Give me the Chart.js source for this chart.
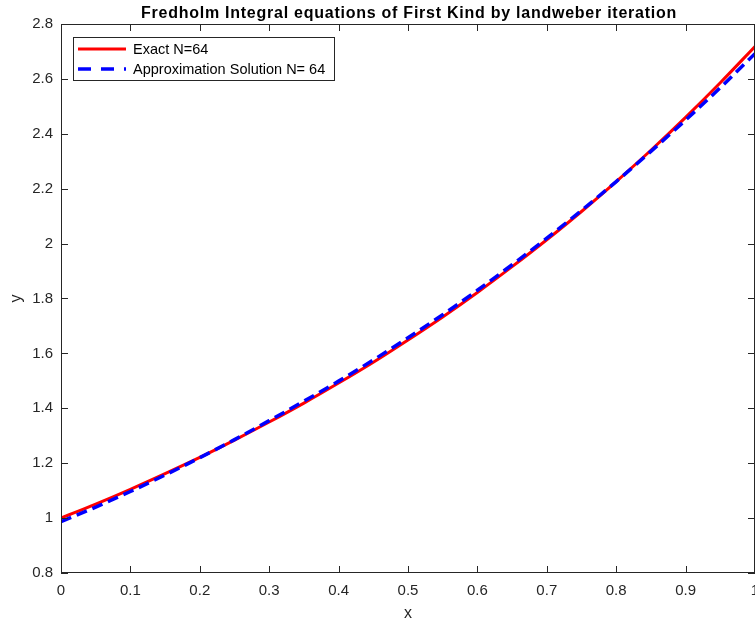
<!DOCTYPE html>
<html>
<head>
<meta charset="utf-8">
<script src="https://cdn.jsdelivr.net/npm/chart.js@4"></script>
<style>
  html, body { margin: 0; padding: 0; background: #fff; }
  #wrap { width: 755px; height: 625px; }
</style>
</head>
<body>
<div id="wrap"><canvas id="chart" width="755" height="625"></canvas></div>
<script>
// Data
const xValues = [0, 0.05, 0.1, 0.15, 0.2, 0.25, 0.3, 0.35, 0.4, 0.45, 0.5,
                 0.55, 0.6, 0.65, 0.7, 0.75, 0.8, 0.85, 0.9, 0.95, 1];
const exactValues = [1.000, 1.051, 1.105, 1.162, 1.221, 1.284, 1.350, 1.419, 1.492, 1.568, 1.649,
                     1.733, 1.822, 1.916, 2.014, 2.117, 2.226, 2.340, 2.460, 2.586, 2.718];
const approxValues = [0.987, 1.040, 1.097, 1.157, 1.220, 1.286, 1.355, 1.426, 1.499, 1.576, 1.657,
                      1.741, 1.830, 1.923, 2.020, 2.121, 2.226, 2.336, 2.450, 2.568, 2.692];
const xTicks = [0, 0.1, 0.2, 0.3, 0.4, 0.5, 0.6, 0.7, 0.8, 0.9, 1];
const yTicks = [0.8, 1, 1.2, 1.4, 1.6, 1.8, 2, 2.2, 2.4, 2.6, 2.8];
const seriesNames = ['Exact N=64', 'Approximation Solution N= 64'];
const chartTitle = 'Fredholm Integral equations of First Kind by landweber iteration';

const axisColor = '#262626';
const FONT = '"Liberation Sans", Arial, Helvetica, sans-serif';

function toPoints(ys) {
    return xValues.map((x, i) => ({ x: x, y: ys[i] }));
}

// Box, inward ticks, title and legend, MATLAB style
const matlabFrame = {
    id: 'matlabFrame',
    afterDraw(chart) {
        const ctx = chart.ctx;
        const area = chart.chartArea;
        const xs = chart.scales.x;
        const ys = chart.scales.y;
        const tickLen = 7;

        ctx.save();
        ctx.strokeStyle = axisColor;
        ctx.lineWidth = 1;
        ctx.strokeRect(area.left + 0.5, area.top + 0.5, area.right - area.left - 1, area.bottom - area.top - 1);

        ctx.beginPath();
        xTicks.forEach(v => {
            const px = Math.round(xs.getPixelForValue(v)) + 0.5;
            ctx.moveTo(px, area.bottom);
            ctx.lineTo(px, area.bottom - tickLen);
            ctx.moveTo(px, area.top);
            ctx.lineTo(px, area.top + tickLen);
        });
        yTicks.forEach(v => {
            const py = Math.round(ys.getPixelForValue(v)) + 0.5;
            ctx.moveTo(area.left, py);
            ctx.lineTo(area.left + tickLen, py);
            ctx.moveTo(area.right, py);
            ctx.lineTo(area.right - tickLen, py);
        });
        ctx.stroke();

        // title
        ctx.fillStyle = '#000';
        ctx.font = 'bold 16px ' + FONT;
        ctx.letterSpacing = '0.75px';
        ctx.textAlign = 'center';
        ctx.textBaseline = 'alphabetic';
        ctx.fillText(chartTitle, (area.left + area.right) / 2 + 1, 18);
        ctx.letterSpacing = '0px';

        // legend
        const lx = 73, ly = 37, lw = 261, lh = 43;
        ctx.fillStyle = '#fff';
        ctx.fillRect(lx, ly, lw, lh);
        ctx.strokeStyle = axisColor;
        ctx.lineWidth = 1;
        ctx.strokeRect(lx + 0.5, ly + 0.5, lw, lh);

        ctx.font = '14.5px ' + FONT;
        ctx.textAlign = 'left';
        ctx.textBaseline = 'middle';
        chart.data.datasets.forEach((ds, i) => {
            const yy = ly + 12 + i * 20;
            ctx.strokeStyle = ds.borderColor;
            ctx.lineWidth = ds.borderWidth;
            ctx.setLineDash(i === 1 ? [13, 10] : []);
            ctx.beginPath();
            ctx.moveTo(lx + 5, yy);
            ctx.lineTo(lx + 53, yy);
            ctx.stroke();
            ctx.setLineDash([]);
            ctx.fillStyle = '#000';
            ctx.fillText(ds.label, lx + 60, yy + 1);
        });
        ctx.restore();
    }
};

const chart = new Chart(document.getElementById('chart'), {
    type: 'line',
    data: {
        datasets: [
            {
                label: seriesNames[0],
                data: toPoints(exactValues),
                borderColor: '#ff0000',
                borderWidth: 3,
                pointRadius: 0,
                cubicInterpolationMode: 'monotone',
                fill: false,
                order: 2
            },
            {
                label: seriesNames[1],
                data: toPoints(approxValues),
                borderColor: '#0000ff',
                borderWidth: 3.5,
                borderDash: [11, 6],
                pointRadius: 0,
                cubicInterpolationMode: 'monotone',
                fill: false,
                order: 1
            }
        ]
    },
    options: {
        responsive: false,
        animation: false,
        layout: { padding: { top: 24, right: 0, left: 0, bottom: 0 } },
        plugins: {
            legend: { display: false },
            title: { display: false },
            tooltip: { enabled: false }
        },
        scales: {
            x: {
                type: 'linear',
                min: 0,
                max: 1,
                afterBuildTicks: (scale) => { scale.ticks = xTicks.map(v => ({ value: v })); },
                afterFit: (scale) => {
                    scale.height = 52;
                    scale.paddingLeft = 0;
                    scale.paddingRight = 0;
                },
                grid: { display: false, drawTicks: false },
                border: { display: false },
                ticks: {
                    color: axisColor,
                    font: { family: FONT, size: 15 },
                    padding: 9,
                    maxRotation: 0,
                    autoSkip: false,
                    callback: (v) => String(v)
                },
                title: {
                    display: true,
                    text: 'x',
                    color: axisColor,
                    font: { family: FONT, size: 16 },
                    padding: { top: 0, bottom: 2 }
                }
            },
            y: {
                type: 'linear',
                min: 0.8,
                max: 2.8,
                afterBuildTicks: (scale) => { scale.ticks = yTicks.map(v => ({ value: v })); },
                afterFit: (scale) => {
                    scale.width = 61;
                    scale.paddingTop = 0;
                    scale.paddingBottom = 0;
                },
                grid: { display: false, drawTicks: false },
                border: { display: false },
                ticks: {
                    color: axisColor,
                    font: { family: FONT, size: 15 },
                    padding: 8,
                    autoSkip: false,
                    callback: (v) => String(v)
                },
                title: {
                    display: true,
                    text: 'y',
                    color: axisColor,
                    font: { family: FONT, size: 16 },
                    padding: { top: 7, bottom: 0 }
                }
            }
        }
    },
    plugins: [matlabFrame]
});
</script>
</body>
</html>
